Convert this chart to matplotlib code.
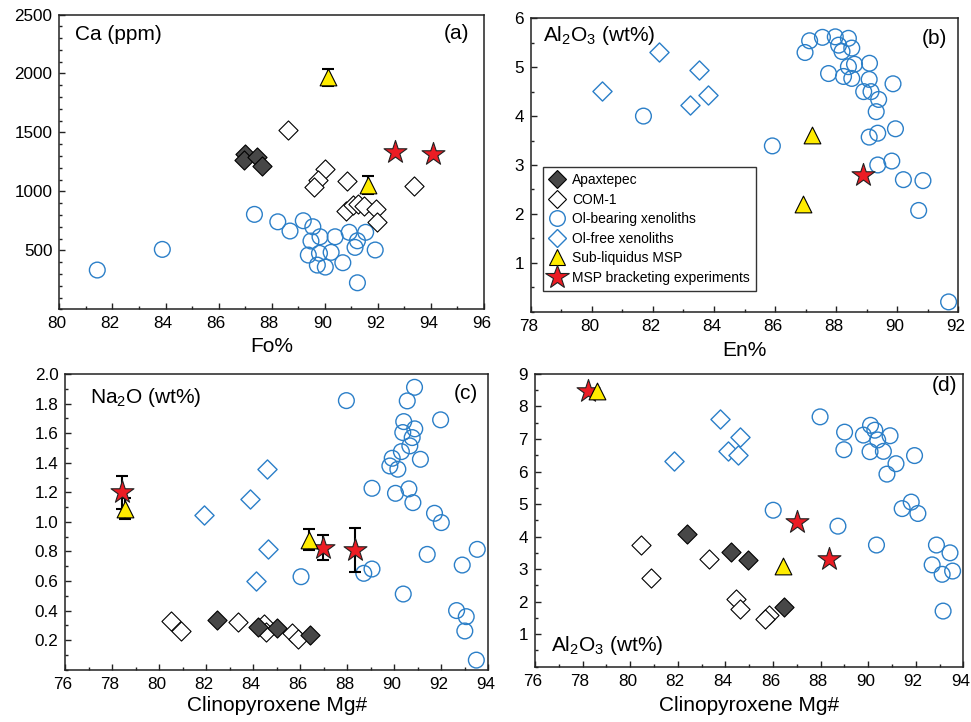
import matplotlib
matplotlib.use("Agg")
import matplotlib.pyplot as plt
from matplotlib.lines import Line2D
from matplotlib.ticker import MultipleLocator, FixedLocator, FormatStrFormatter
from matplotlib.transforms import ScaledTranslation

plt.rcParams['font.family'] = ['Liberation Sans', 'DejaVu Sans']
plt.rcParams['mathtext.default'] = 'regular'

# ---------------- data ----------------
# Panel (a): Ca (ppm) vs Fo%
a_apax_x = [87.0, 86.95, 87.45, 87.65]
a_apax_y = [1320, 1265, 1292, 1215]
a_com_x = [88.6, 90.0, 89.75, 89.6, 90.83, 90.8, 91.08, 91.27, 91.48, 91.93, 91.96, 93.38]
a_com_y = [1520, 1190, 1100, 1040, 1087, 830, 885, 890, 875, 848, 742, 1045]
a_olb_x = [81.43, 83.88, 87.35, 88.23, 88.69, 89.19, 89.55, 89.82, 89.48, 89.38, 89.8,
           89.72, 90.02, 90.24, 90.39, 90.68, 90.92, 91.23, 91.14, 91.54, 91.9, 91.23]
a_olb_y = [333, 508, 805, 742, 664, 751, 700, 615, 579, 460, 475,
           375, 358, 483, 615, 395, 653, 581, 525, 653, 503, 225]
a_tri_x = [90.14, 91.62]
a_tri_y = [1966, 1057]
a_tri_err = [75, 75]
a_star_x = [92.63, 94.06]
a_star_y = [1336, 1316]

# Panel (b): Al2O3 (wt%) vs En%
b_olf_x = [80.34, 82.2, 83.51, 83.2, 83.79]
b_olf_y = [4.52, 5.30, 4.94, 4.23, 4.44]
b_olb_x = [81.69, 85.91, 86.98, 87.13, 87.55, 87.97, 88.08, 88.19, 88.4, 88.51, 87.75,
           88.24, 88.51, 88.4, 88.6, 89.09, 89.08, 88.9, 89.14, 89.39, 89.86, 89.31,
           89.08, 89.36, 89.94, 89.36, 89.82, 90.2, 90.84, 90.7, 91.68]
b_olb_y = [4.0, 3.39, 5.30, 5.54, 5.61, 5.62, 5.45, 5.32, 5.59, 5.39, 4.87,
           4.81, 4.77, 5.01, 5.06, 5.08, 4.75, 4.50, 4.50, 4.34, 4.66, 4.09,
           3.57, 3.65, 3.74, 3.0, 3.08, 2.70, 2.68, 2.07, 0.20]
b_tri_x = [87.2, 86.91]
b_tri_y = [3.61, 2.20]
b_star_x = [88.87]
b_star_y = [2.79]

# Panel (c): Na2O (wt%) vs Clinopyroxene Mg#
c_apax_x = [82.46, 84.2, 85.0, 86.43]
c_apax_y = [0.334, 0.291, 0.28, 0.235]
c_com_x = [80.5, 80.93, 83.34, 84.47, 84.54, 85.65, 85.9]
c_com_y = [0.329, 0.262, 0.32, 0.309, 0.257, 0.246, 0.21]
c_olf_x = [84.58, 83.84, 81.9, 84.61, 84.13]
c_olf_y = [1.358, 1.155, 1.047, 0.814, 0.602]
c_olb_x = [87.96, 90.86, 90.55, 91.97, 90.4, 90.87, 90.36, 90.76, 90.66, 90.3, 91.11,
           89.91, 89.81, 90.15, 89.05, 90.05, 90.62, 90.79, 91.71, 92.0, 91.4, 93.53,
           92.89, 89.05, 88.7, 86.03, 90.38, 92.65, 93.06, 93.0, 93.49]
c_olb_y = [1.82, 1.91, 1.818, 1.69, 1.678, 1.629, 1.604, 1.57, 1.514, 1.475, 1.423,
           1.43, 1.378, 1.356, 1.227, 1.193, 1.223, 1.13, 1.058, 0.995, 0.78, 0.814,
           0.708, 0.681, 0.652, 0.629, 0.512, 0.40, 0.359, 0.262, 0.065]
c_tri_x = [78.54, 86.35]
c_tri_y = [1.09, 0.88]
c_tri_err = [0.07, 0.07]
c_star_x = [78.4, 86.96, 88.32]
c_star_y = [1.20, 0.826, 0.81]
c_star_err = [0.11, 0.087, 0.147]

# Panel (d): Al2O3 (wt%) vs Clinopyroxene Mg#
d_apax_x = [82.4, 84.24, 84.95, 86.46]
d_apax_y = [4.09, 3.52, 3.28, 1.85]
d_com_x = [80.45, 80.88, 83.32, 84.43, 84.6, 85.84, 85.66]
d_com_y = [3.74, 2.72, 3.3, 2.09, 1.77, 1.58, 1.46]
d_olf_x = [81.84, 83.78, 84.1, 84.63, 84.53]
d_olf_y = [6.31, 7.61, 6.62, 7.05, 6.52]
d_olb_x = [87.98, 89.01, 88.98, 89.8, 90.1, 90.28, 90.4, 90.08, 90.64, 90.92, 91.17,
           90.79, 91.95, 91.43, 91.81, 92.09, 86.01, 88.73, 90.35, 92.87, 93.44, 92.69,
           93.11, 93.55, 93.15]
d_olb_y = [7.68, 7.21, 6.67, 7.12, 7.42, 7.27, 6.97, 6.61, 6.62, 7.1, 6.24,
           5.92, 6.49, 4.86, 5.06, 4.71, 4.81, 4.32, 3.74, 3.74, 3.5, 3.13,
           2.84, 2.94, 1.71]
d_tri_x = [78.59, 86.44]
d_tri_y = [8.47, 3.10]
d_star_x = [78.23, 87.03, 88.35]
d_star_y = [8.46, 4.45, 3.30]

legend_labels = ['Apaxtepec', 'COM-1', 'Ol-bearing xenoliths', 'Ol-free xenoliths',
                 'Sub-liquidus MSP', 'MSP bracketing experiments']

# ---------------- styles ----------------
BLUE = '#2b7fc8'
DARK = '#474747'
YELLOW = '#ffec00'
RED = '#ec1c24'
S_CIRC, S_DIA, S_TRI, S_STAR = 128, 95, 145, 300
EW = 0.8


def style_axis(ax, fig, xlim, ylim, xmaj, xmin, ymin, yticks):
    ax.set_xlim(*xlim)
    ax.set_ylim(*ylim)
    ax.xaxis.set_major_locator(MultipleLocator(xmaj))
    ax.xaxis.set_minor_locator(MultipleLocator(xmin))
    ax.yaxis.set_major_locator(FixedLocator(yticks))
    ax.yaxis.set_minor_locator(MultipleLocator(ymin))
    ax.tick_params(which='both', direction='in', top=False, right=False,
                   labelsize=12.3, width=1.0, color='#222222')
    ax.tick_params(which='major', length=4.5, pad=5)
    ax.tick_params(which='minor', length=2.5)
    for sp in ax.spines.values():
        sp.set_linewidth(1.1)
        sp.set_color('#222222')
    shift = ScaledTranslation(-2.5 / 100, 0, fig.dpi_scale_trans)
    for lab in ax.get_xticklabels():
        lab.set_transform(lab.get_transform() + shift)


def draw(ax, olb=None, olf=None, com=None, apax=None, tri=None, star=None,
         tri_err=None, star_err=None):
    if olb is not None:
        ax.scatter(*olb, s=S_CIRC, marker='o', facecolor='none', edgecolor=BLUE,
                   linewidth=1.0, zorder=2)
    if olf is not None:
        ax.scatter(*olf, s=S_DIA, marker='D', facecolor='white', edgecolor=BLUE,
                   linewidth=1.0, zorder=2)
    if com is not None:
        ax.scatter(*com, s=S_DIA, marker='D', facecolor='white', edgecolor='black',
                   linewidth=EW, zorder=3)
    if apax is not None:
        ax.scatter(*apax, s=S_DIA, marker='D', facecolor=DARK, edgecolor='black',
                   linewidth=EW, zorder=4)
    if star is not None:
        if star_err is not None:
            ax.errorbar(*star, yerr=star_err, fmt='none', ecolor='black',
                        elinewidth=1.5, capsize=4.5, capthick=1.5, zorder=5)
        ax.scatter(*star, s=S_STAR, marker='*', facecolor=RED, edgecolor='#222222',
                   linewidth=EW, zorder=6)
    if tri is not None:
        if tri_err is not None:
            ax.errorbar(*tri, yerr=tri_err, fmt='none', ecolor='black',
                        elinewidth=1.5, capsize=4.5, capthick=1.5, zorder=5)
        ax.scatter(*tri, s=S_TRI, marker='^', facecolor=YELLOW, edgecolor='black',
                   linewidth=EW, zorder=7)


fig = plt.figure(figsize=(9.71, 7.22), dpi=100)
axa = fig.add_axes([0.0611, 0.5716, 0.4374, 0.4083])
axb = fig.add_axes([0.5466, 0.5683, 0.4404, 0.4064])
axc = fig.add_axes([0.0673, 0.0724, 0.4356, 0.4096])
axd = fig.add_axes([0.5510, 0.0766, 0.4411, 0.4055])

# (a)
draw(axa, olb=(a_olb_x, a_olb_y), com=(a_com_x, a_com_y), apax=(a_apax_x, a_apax_y),
     tri=(a_tri_x, a_tri_y), tri_err=a_tri_err, star=(a_star_x, a_star_y))
style_axis(axa, fig, (80, 96), (0, 2500), 2, 1, 100, [500, 1000, 1500, 2000, 2500])
axa.set_xlabel('Fo%', fontsize=15, labelpad=4)
axa.text(0.038, 0.933, 'Ca (ppm)', transform=axa.transAxes, fontsize=15,
         ha='left', va='center')
axa.text(0.964, 0.936, '(a)', transform=axa.transAxes, fontsize=15,
         ha='right', va='center')

# (b)
draw(axb, olb=(b_olb_x, b_olb_y), olf=(b_olf_x, b_olf_y),
     tri=(b_tri_x, b_tri_y), star=(b_star_x, b_star_y))
style_axis(axb, fig, (78, 92), (0, 6), 2, 1, 0.5, [1, 2, 3, 4, 5, 6])
axb.set_xlabel('En%', fontsize=15, labelpad=5)
axb.text(0.028, 0.94, 'Al$_2$O$_3$ (wt%)', transform=axb.transAxes, fontsize=15,
         ha='left', va='center')
axb.text(0.974, 0.932, '(b)', transform=axb.transAxes, fontsize=15,
         ha='right', va='center')

handles = [
    Line2D([], [], ls='none', marker='D', ms=9.5, mfc=DARK, mec='black', mew=EW),
    Line2D([], [], ls='none', marker='D', ms=9.5, mfc='white', mec='black', mew=EW),
    Line2D([], [], ls='none', marker='o', ms=11.2, mfc='none', mec=BLUE, mew=1.0),
    Line2D([], [], ls='none', marker='D', ms=9.5, mfc='white', mec=BLUE, mew=1.0),
    Line2D([], [], ls='none', marker='^', ms=12, mfc=YELLOW, mec='black', mew=EW),
    Line2D([], [], ls='none', marker='*', ms=17.5, mfc=RED, mec='#222222', mew=EW),
]
leg = axb.legend(handles, legend_labels, loc='upper left',
                 bbox_to_anchor=(0.0295, 0.494), bbox_transform=axb.transAxes,
                 borderaxespad=0, fontsize=10, handlelength=1.0, handletextpad=0.6,
                 borderpad=0.45, labelspacing=0.4, fancybox=False, framealpha=1,
                 edgecolor='#333333')
leg.get_frame().set_linewidth(1.0)

# (c)
draw(axc, olb=(c_olb_x, c_olb_y), olf=(c_olf_x, c_olf_y), com=(c_com_x, c_com_y),
     apax=(c_apax_x, c_apax_y), tri=(c_tri_x, c_tri_y), tri_err=c_tri_err,
     star=(c_star_x, c_star_y), star_err=c_star_err)
style_axis(axc, fig, (76, 94), (0, 2.0), 2, 1, 0.1,
           [0.2, 0.4, 0.6, 0.8, 1.0, 1.2, 1.4, 1.6, 1.8, 2.0])
axc.yaxis.set_major_formatter(FormatStrFormatter('%.1f'))
axc.set_xlabel('Clinopyroxene Mg#', fontsize=15, labelpad=3)
axc.text(0.058, 0.921, 'Na$_2$O (wt%)', transform=axc.transAxes, fontsize=15,
         ha='left', va='center')
axc.text(0.976, 0.934, '(c)', transform=axc.transAxes, fontsize=15,
         ha='right', va='center')

# (d)
draw(axd, olb=(d_olb_x, d_olb_y), olf=(d_olf_x, d_olf_y), com=(d_com_x, d_com_y),
     apax=(d_apax_x, d_apax_y), tri=(d_tri_x, d_tri_y), star=(d_star_x, d_star_y))
style_axis(axd, fig, (76, 94), (0, 9), 2, 1, 0.5, [1, 2, 3, 4, 5, 6, 7, 8, 9])
axd.set_xlabel('Clinopyroxene Mg#', fontsize=15, labelpad=5)
axd.text(0.037, 0.074, 'Al$_2$O$_3$ (wt%)', transform=axd.transAxes, fontsize=15,
         ha='left', va='center')
axd.text(0.985, 0.959, '(d)', transform=axd.transAxes, fontsize=15,
         ha='right', va='center')

fig.savefig('out.png', dpi=100)
